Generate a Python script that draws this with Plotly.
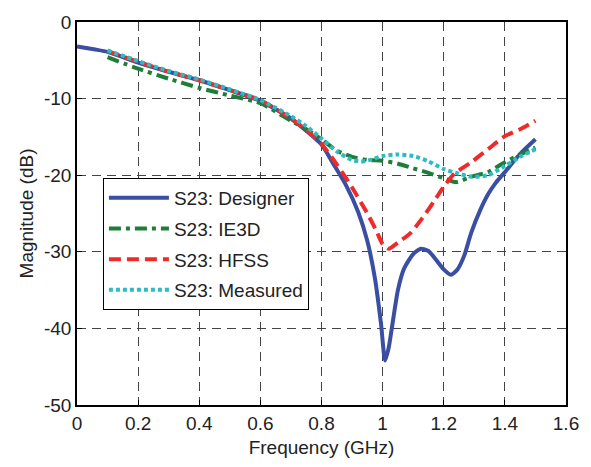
import plotly.graph_objects as go

# ---- data ----
freq_designer = [0, 0.03, 0.06, 0.1, 0.2, 0.3, 0.4, 0.5, 0.6, 0.7, 0.75, 0.8, 0.84, 0.88,
                 0.92, 0.95, 0.975, 0.995, 1.008, 1.02, 1.03, 1.05, 1.07, 1.1,
                 1.125, 1.15, 1.17, 1.2, 1.223, 1.245, 1.267, 1.29, 1.32, 1.345, 1.37,
                 1.4, 1.45, 1.5]
mag_designer = [-3.2, -3.4, -3.6, -3.9, -5.3, -6.5, -7.6, -8.9, -10.3, -12.6, -14.2, -16.0,
                -18.6, -21.3, -24.8, -28.6, -33.5, -39.5, -44.2, -42.5, -40.0,
                -35.0, -32.2, -30.3, -29.6, -29.9, -30.8, -32.3, -33.0, -32.3, -30.5, -27.5,
                -24.5, -22.5, -21.0, -19.6, -17.2, -15.3]

freq_ie3d = [0.1, 0.2, 0.3, 0.4, 0.5, 0.6, 0.7, 0.75, 0.8, 0.85, 0.9, 0.95, 1.0, 1.05,
             1.1, 1.15, 1.2, 1.24, 1.29, 1.345, 1.4, 1.45, 1.5]
mag_ie3d = [-4.6, -6.1, -7.4, -8.6, -9.6, -10.6, -12.9, -14.0, -15.3, -16.8, -17.6, -18.0,
            -18.1, -18.5, -19.1, -19.7, -20.4, -20.9, -20.2, -19.6, -18.3, -17.3, -16.4]

freq_hfss = [0.1, 0.2, 0.3, 0.4, 0.5, 0.6, 0.7, 0.75, 0.8, 0.85, 0.9, 0.95, 0.98, 1.0,
             1.02, 1.05, 1.09, 1.13, 1.17, 1.2, 1.235, 1.29, 1.345, 1.4, 1.45, 1.5]
mag_hfss = [-3.8, -5.2, -6.5, -7.6, -8.9, -10.2, -12.6, -14.1, -15.9, -18.6, -21.6, -25.0,
            -27.3, -29.0, -29.6, -28.8, -27.6, -25.6, -23.3, -21.5, -19.8, -18.3, -16.6,
            -14.9, -14.0, -12.9]

freq_meas = [0.1, 0.2, 0.3, 0.4, 0.5, 0.6, 0.7, 0.75, 0.8, 0.85, 0.9, 0.93, 0.96, 1.0,
             1.05, 1.1, 1.15, 1.2, 1.24, 1.29, 1.345, 1.4, 1.45, 1.5]
mag_meas = [-3.7, -5.1, -6.4, -7.5, -8.8, -10.2, -12.3, -13.6, -15.2, -16.9, -18.0, -18.2,
            -18.0, -17.5, -17.3, -17.5, -18.2, -19.2, -19.7, -20.2, -20.0, -18.8, -17.6,
            -16.6]

x_ticks = [0, 0.2, 0.4, 0.6, 0.8, 1, 1.2, 1.4, 1.6]
x_tick_labels = ["0", "0.2", "0.4", "0.6", "0.8", "1", "1.2", "1.4", "1.6"]
y_ticks = [0, -10, -20, -30, -40, -50]
y_tick_labels = ["0", "-10", "-20", "-30", "-40", "-50"]

FONT = "Liberation Sans, Arial, sans-serif"
FS = 19

fig = go.Figure()
series = [
    ("S23: Designer", freq_designer, mag_designer, "#3a4ea2", "solid"),
    ("S23: IE3D", freq_ie3d, mag_ie3d, "#1f7d39", "12px,5px,4px,5px"),
    ("S23: HFSS", freq_hfss, mag_hfss, "#ef2a2b", "12px,6px"),
    ("S23: Measured", freq_meas, mag_meas, "#2cbcc2", "4px,3px"),
]
for i, (name, xs, ys, col, dash) in enumerate(series):
    fig.add_trace(go.Scatter(
        x=xs, y=ys, mode="lines", name=name, legendgroup=f"g{i}",
        line=dict(color=col, width=4, dash=dash, shape="spline", smoothing=0.6),
    ))

axis_common = dict(
    showline=True, linecolor="black", linewidth=1.5, mirror=True,
    showgrid=True, gridcolor="#444444", gridwidth=1, griddash="9px,6px",
    ticks="inside", ticklen=5, tickcolor="black", zeroline=False,
    tickfont=dict(family=FONT, size=FS, color="#222222"),
)

fig.update_layout(
    width=591, height=467,
    margin=dict(l=77, r=22, t=18, b=61),
    paper_bgcolor="white", plot_bgcolor="white",
    font=dict(family=FONT, color="#222222"),
    showlegend=True,
    legend=dict(
        x=0.053, y=0.593, xanchor="left", yanchor="top",
        bgcolor="white", bordercolor="black", borderwidth=1,
        font=dict(family=FONT, size=FS, color="#222222"),
        itemwidth=60, tracegroupgap=3,
    ),
    xaxis=dict(
        range=[0, 1.6], tickvals=x_ticks, ticktext=x_tick_labels,
        title=dict(text="Frequency (GHz)", font=dict(family=FONT, size=FS), standoff=8),
        **axis_common,
    ),
    yaxis=dict(
        range=[-50, 0], tickvals=y_ticks, ticktext=y_tick_labels,
        title=dict(text="Magnitude (dB)", font=dict(family=FONT, size=FS), standoff=5),
        **axis_common,
    ),
)

fig.write_html("out.html")
